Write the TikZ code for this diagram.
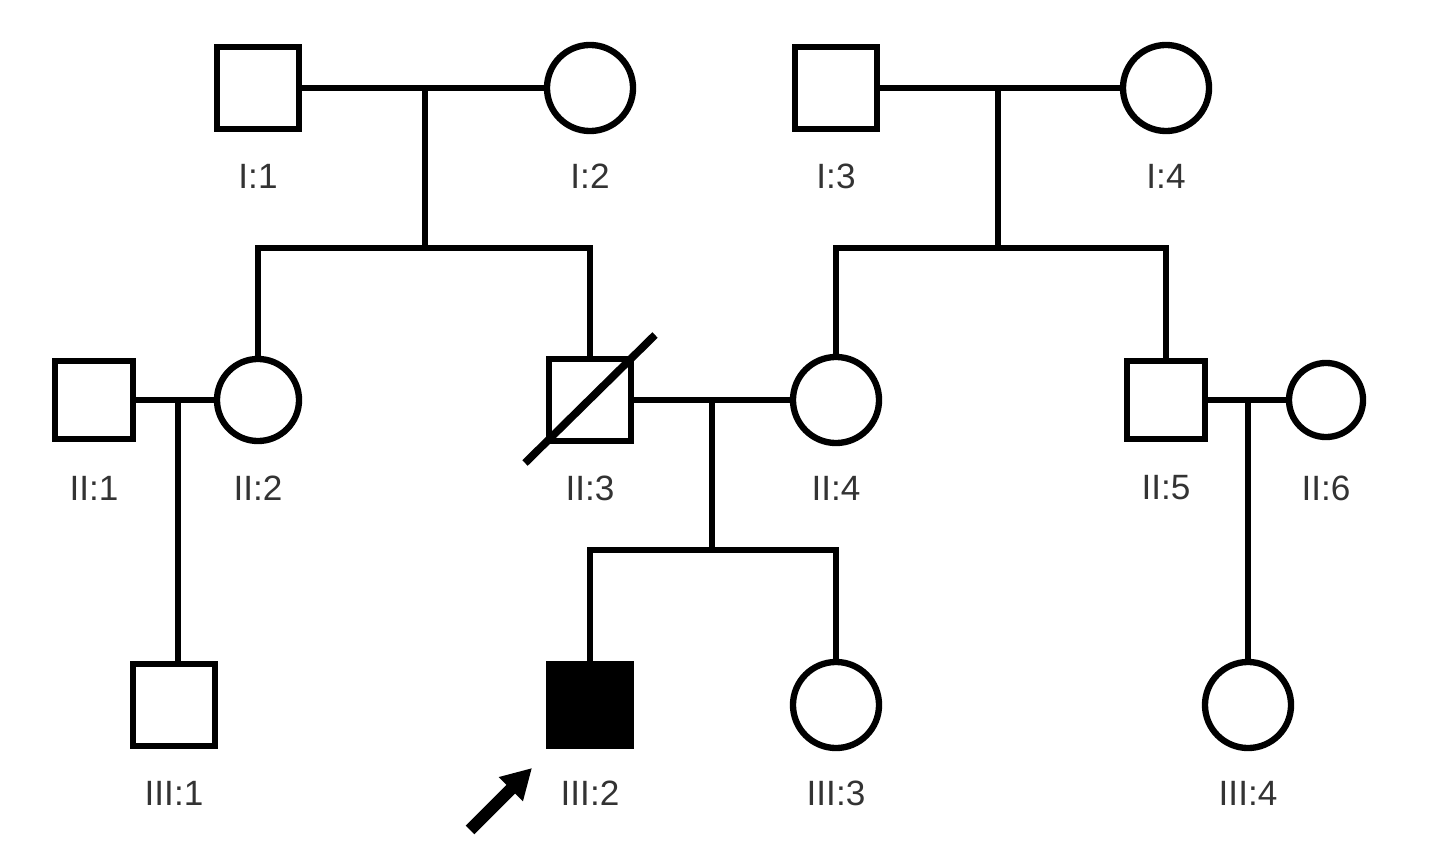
\documentclass[tikz,border=0pt]{standalone}
\usepackage{fontspec}
\setmainfont{Liberation Sans}
\usetikzlibrary{arrows.meta, positioning}
\tikzset{
    male/.style={draw, line width=1.8pt, minimum size=0.82cm, inner sep=0pt},
    female/.style={draw, circle, line width=1.8pt, minimum size=0.86cm, inner sep=0pt},
    tag/.style={font=\fontsize{10}{12}\selectfont, text=black!80},
    link/.style={line width=1.5pt}
}
\begin{document}
\begin{tikzpicture}[x=0.01cm, y=-0.01cm]
    \useasboundingbox (0,0) rectangle (1440,864);

    % Generation I
    \node[male]   (i1) at (258,88) {};
    \node[female] (i2) at (590,88) {};
    \node[male]   (i3) at (836,88) {};
    \node[female] (i4) at (1166,88) {};

    % Generation II
    \node[male, minimum size=0.78cm]   (ii1) at (94,400) {};
    \node[female, minimum size=0.82cm] (ii2) at (258,400) {};
    \node[male]   (ii3) at (590,400) {};
    \node[female] (ii4) at (836,400) {};
    \node[male, minimum size=0.78cm]   (ii5) at (1166,400) {};
    \node[female, minimum size=0.74cm] (ii6) at (1326,400) {};

    % Generation III
    \node[male]   (iii1) at (174,705) {};
    \node[male, fill=black] (iii2) at (590,705) {};
    \node[female] (iii3) at (836,705) {};
    \node[female] (iii4) at (1248,705) {};

    % Labels
    \foreach \n/\t in {i1/I:1, i2/I:2, i3/I:3, i4/I:4,
                       ii1/II:1, ii2/II:2, ii3/II:3, ii4/II:4, ii5/II:5, ii6/II:6,
                       iii1/III:1, iii2/III:2, iii3/III:3, iii4/III:4} {
        \path (\n.center) ++(0,88) node[tag] {\t};
    }

    % Couples and descent lines
    \coordinate (c1) at (425,88);
    \coordinate (s1) at (425,248);
    \draw[link] (i1) -- (i2);
    \draw[link] (c1) -- (s1);
    \draw[link] (ii2.north) |- (s1) -| (ii3.north);

    \coordinate (c2) at (998,88);
    \coordinate (s2) at (998,248);
    \draw[link] (i3) -- (i4);
    \draw[link] (c2) -- (s2);
    \draw[link] (ii4.north) |- (s2) -| (ii5.north);

    \coordinate (c3) at (178,400);
    \draw[link] (ii1) -- (ii2);
    \draw[link] (c3) -- (c3 |- iii1.north);

    \coordinate (c4) at (712,400);
    \coordinate (s4) at (712,550);
    \draw[link] (ii3) -- (ii4);
    \draw[link] (c4) -- (s4);
    \draw[link] (iii2.north) |- (s4) -| (iii3.north);

    \coordinate (c5) at (1248,400);
    \draw[link] (ii5) -- (ii6);
    \draw[link] (c5) -- (iii4.north);

    % Deceased mark
    \draw[line width=2.2pt] (525,463) -- (655,335);

    % Proband arrow
    \coordinate (p0) at (470,830);
    \coordinate (p1) at (532,768);
    \draw[line width=3.5pt, -{Triangle[length=0.3cm, width=0.32cm]}] (p0) -- (p1);
\end{tikzpicture}
\end{document}
